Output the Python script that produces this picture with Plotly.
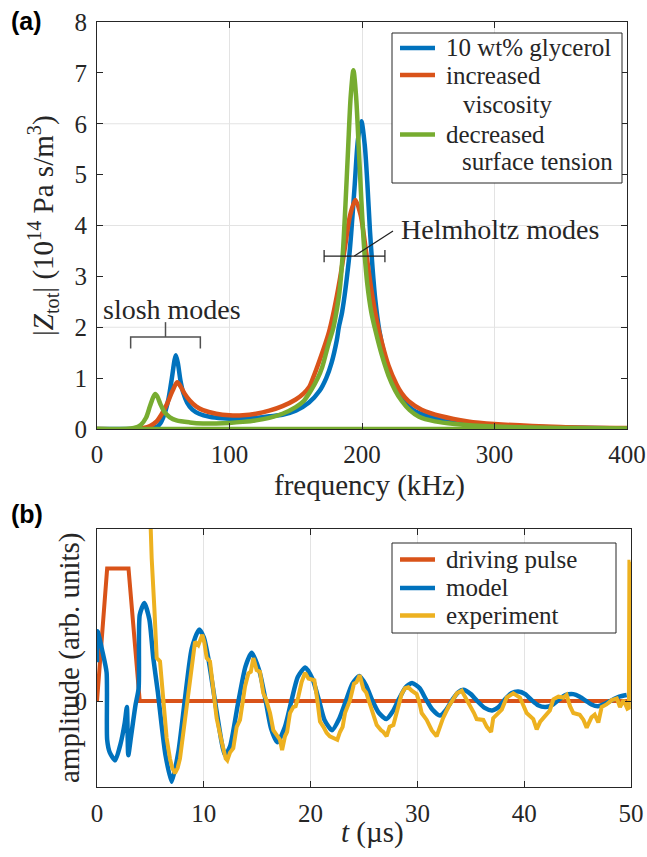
import plotly.graph_objects as go

W, H = 647, 857

# ---------------- Panel (a) data ----------------
f_blue = [0, 30, 40, 45, 48, 51, 54, 56.5, 58.5, 59.5, 61, 63, 65, 68, 72, 77, 85, 95, 105, 120, 130,
          140, 150, 160, 168, 173, 177, 181, 182.5, 185, 190, 192, 194.5, 197, 199.5, 202, 204, 206,
          208, 210, 213, 217, 222, 226, 230, 235, 240, 250, 260, 280, 300, 350, 400]
z_blue = [0, 0, 0.01, 0.04, 0.12, 0.3, 0.6, 1.0, 1.35, 1.45, 1.3, 0.95, 0.72, 0.52, 0.38, 0.3, 0.24, 0.21, 0.2, 0.22, 0.25,
          0.28, 0.36, 0.52, 0.75, 1.0, 1.3, 1.75, 2.0, 2.3, 3.3, 3.9, 4.8, 5.7, 6.05, 5.6, 4.85, 3.9,
          3.15, 2.55, 1.95, 1.45, 1.0, 0.76, 0.6, 0.45, 0.35, 0.25, 0.19, 0.12, 0.07, 0.03, 0.01]

f_red = [0, 28, 35, 40, 45, 49, 53, 57, 60.5, 63, 66, 70, 75, 80, 90, 100, 110, 120, 130, 140, 150,
         156, 160, 163, 168, 175, 179, 183, 187, 191, 195, 199, 203, 207, 211, 215, 220, 226, 230, 235,
         245, 260, 280, 300, 350, 400]
z_red = [0, 0, 0.02, 0.06, 0.15, 0.3, 0.5, 0.75, 0.92, 0.84, 0.7, 0.56, 0.44, 0.37, 0.3, 0.27, 0.27, 0.3, 0.36, 0.45, 0.58,
         0.7, 0.82, 1.0, 1.35, 1.9, 2.35, 2.9, 3.55, 4.2, 4.5, 4.2, 3.5, 2.75, 2.15, 1.7, 1.25, 0.88, 0.7, 0.55,
         0.38, 0.25, 0.15, 0.1, 0.04, 0.02]

f_green = [0, 22, 28, 33, 37, 40, 42.5, 44, 45.5, 48, 51, 55, 60, 70, 80, 90, 100, 110, 120, 130, 140,
           150, 156, 162, 166.6, 170, 175, 178, 180, 183, 185.5, 187.5, 189.5, 191.5, 193.5, 195.5,
           197.5, 199.5, 201.5, 204, 207, 210, 215, 220, 225, 230, 236, 243, 255, 270, 300, 350, 400]
z_green = [0, 0, 0.02, 0.08, 0.22, 0.45, 0.63, 0.69, 0.64, 0.48, 0.33, 0.23, 0.17, 0.13, 0.11, 0.11, 0.12, 0.14, 0.17, 0.22, 0.3,
           0.43, 0.55, 0.78, 1.0, 1.22, 1.7, 1.95, 2.2, 2.7, 3.45, 4.4, 5.5, 6.55, 7.05, 6.55,
           5.55, 4.5, 3.6, 2.85, 2.3, 1.95, 1.45, 1.05, 0.76, 0.55, 0.37, 0.24, 0.15, 0.1, 0.05, 0.02, 0.01]

base_f = [0, 400]
base_z = [0, 0]

names_a = ["10 wt% glycerol", "increased<br>viscosity", "decreased<br>surface tension"]
xticks_a = [0, 100, 200, 300, 400]
yticks_a = [0, 1, 2, 3, 4, 5, 6, 7, 8]
ygrid_a = [2, 4, 6]

# ---------------- Panel (b) data ----------------
t_pulse = [0, 0.95, 2.95, 4.0, 49.8]
a_pulse = [0, 1.54, 1.54, 0, 0]

t_model = [0, 0.05, 0.5, 0.9, 0.95, 1.2, 1.7, 2.2, 2.6, 2.8, 2.93, 3.2, 3.6, 3.9, 4.0, 4.43, 4.9, 5.27,
           5.7, 6.05, 6.4, 6.99, 7.62, 8.24, 8.87, 9.55, 10.0, 10.42, 11.2, 11.98, 12.45, 13.2, 13.9,
           14.48, 15.2, 15.8, 16.3, 16.9, 17.6, 18.2, 18.8, 19.5, 20.2, 20.8, 21.3, 22.0, 22.7, 23.3,
           23.9, 24.56, 25.2, 25.8, 26.4, 27.1, 27.7, 28.3, 28.9, 29.5, 30.2, 30.8, 31.4, 32.1, 32.7,
           33.3, 33.8, 34.3, 35.0, 35.6, 36.3, 37.0, 37.6, 38.2, 38.8, 39.45, 40.1, 40.7, 41.3, 42.0,
           42.7, 43.3, 43.9, 44.6, 45.2, 45.8, 46.3, 46.9, 47.6, 48.2, 48.9, 49.6]
a_model = [0.45, 0.81, 0.58, 0.33, -0.45, -0.6, -0.69, -0.5, -0.25, -0.07, -0.63, -0.4, -0.05, 0.15, 1.0, 1.14, 0.95, 0.5,
           0.1, -0.28, -0.62, -0.94, -0.59, 0.03, 0.61, 0.83, 0.74, 0.5, -0.12, -0.63, -0.53, -0.03, 0.4,
           0.56, 0.35, 0.0, -0.32, -0.48, -0.3, 0.0, 0.28, 0.39, 0.25, 0.0, -0.22, -0.34, -0.2, 0.0,
           0.2, 0.29, 0.18, 0.0, -0.14, -0.21, -0.12, 0.03, 0.16, 0.21, 0.15, 0.02, -0.1, -0.17, -0.1,
           0.02, 0.1, 0.13, 0.08, 0.0, -0.08, -0.11, -0.07, 0.02, 0.09, 0.11, 0.08, 0.01, -0.05, -0.07,
           -0.04, 0.02, 0.07, 0.08, 0.05, 0.0, -0.04, -0.06, -0.03, 0.01, 0.05, 0.07]

t_exp = [4.9, 5.12, 5.37, 5.59, 5.9, 6.2, 6.52, 6.83, 7.05, 7.3, 7.55, 7.77, 8.0, 8.24, 8.55, 8.87, 9.18,
         9.49, 9.86, 10.05, 10.27, 10.58, 10.89, 11.2, 11.67, 12.05, 12.2, 12.45, 12.76, 13.08, 13.39,
         13.7, 13.86, 14.17, 14.4, 14.64, 14.95, 15.26, 15.57, 15.8, 16.04, 16.2, 16.51, 16.8, 17.13,
         17.33, 17.6, 17.8, 18.07, 18.38, 18.6, 18.85, 19.16, 19.48, 19.8, 20.1, 20.35, 20.63, 20.88,
         21.2, 21.5, 21.8, 22.1, 22.5, 22.75, 23.0, 23.22, 23.69, 24.06, 24.3, 24.6, 24.94, 25.2,
         25.56, 25.87, 26.19, 26.6, 26.81, 27.12, 27.4, 27.75, 28.06, 28.3, 28.52, 28.84, 29.15,
         29.47, 29.93, 30.15, 30.4, 30.87, 31.34, 31.8, 32.1, 32.4, 32.9, 33.3, 33.7, 34.15, 34.6,
         35.08, 35.3, 35.55, 36.17, 36.5, 36.9, 37.1, 37.4, 37.9, 38.36, 38.98, 39.6, 40.23, 40.85,
         41.17, 41.5, 41.8, 42.4, 42.73, 43.2, 43.66, 43.97, 44.29, 44.6, 45.2, 45.55, 45.85, 46.3,
         46.6, 46.94, 47.25, 47.7, 48.2, 48.67, 48.97, 49.3, 49.66, 49.8, 49.85, 49.95]
a_exp = [2.5, 1.66, 1.08, 0.5, 0.46, 0.03, -0.43, -0.67, -0.78, -0.84, -0.78, -0.67, -0.45, -0.2, 0.03, 0.42, 0.69,
         0.65, 0.77, 0.68, 0.5, 0.46, 0.11, -0.2, -0.47, -0.67, -0.69, -0.6, -0.55, -0.3, -0.22,
         0.01, 0.17, 0.32, 0.34, 0.5, 0.36, 0.34, 0.09, 0.03, -0.07, -0.14, -0.34, -0.4, -0.45,
         -0.57, -0.41, -0.36, -0.14, -0.07, -0.06, 0.05, 0.22, 0.33, 0.26, 0.25, 0.24, 0.01, -0.24,
         -0.3, -0.37, -0.41, -0.43, -0.45, -0.36, -0.3, -0.14, 0.01, 0.2, 0.22, 0.3, 0.14, 0.1,
         -0.05, -0.14, -0.28, -0.34, -0.36, -0.41, -0.3, -0.28, -0.14, -0.05, 0.08, 0.15, 0.16,
         0.12, 0.08, 0.0, -0.14, -0.22, -0.34, -0.41, -0.3, -0.2, -0.07, 0.02, 0.09, 0.12, 0.02,
         -0.08, -0.14, -0.21, -0.22, -0.3, -0.36, -0.2, -0.16, -0.1, 0.04, 0.09, 0.04, -0.14, -0.21,
         -0.33, -0.24, -0.2, -0.11, 0.02, 0.05, 0.04, 0.07, -0.06, -0.14, -0.16, -0.22, -0.31, -0.19,
         -0.16, -0.25, -0.07, -0.04, 0.01, 0.03, -0.07, 0.01, -0.09, -0.08, 1.62, 1.62]

names_b = ["driving pulse", "model", "experiment"]
xticks_b = [0, 10, 20, 30, 40, 50]
yticks_b = [0]

# ---------------- styling ----------------
BLUE, RED, YEL, GRN = "#0072BD", "#D95319", "#EDB120", "#77AC30"
INK = "#262626"
GRID = "#e3e3e3"
SERIF = "Liberation Serif"
SANS = "Liberation Sans"


def X(px):
    return px / W


def Y(py):
    return 1 - py / H


fig = go.Figure()

fig.add_trace(go.Scatter(x=f_blue, y=z_blue, mode="lines", name=names_a[0],
                         line=dict(color=BLUE, width=4.5, shape="spline", smoothing=0.8),
                         xaxis="x", yaxis="y", showlegend=False))
fig.add_trace(go.Scatter(x=f_red, y=z_red, mode="lines", name=names_a[1],
                         line=dict(color=RED, width=4.5, shape="spline", smoothing=0.8),
                         xaxis="x", yaxis="y", showlegend=False))
fig.add_trace(go.Scatter(x=f_green, y=z_green, mode="lines", name=names_a[2],
                         line=dict(color=GRN, width=4.5, shape="spline", smoothing=0.8),
                         xaxis="x", yaxis="y", showlegend=False))
fig.add_trace(go.Scatter(x=base_f, y=base_z, mode="lines", line=dict(color=GRN, width=4.5),
                         xaxis="x", yaxis="y", showlegend=False, hoverinfo="skip"))

fig.add_trace(go.Scatter(x=t_pulse, y=a_pulse, mode="lines", name=names_b[0],
                         line=dict(color=RED, width=4), xaxis="x2", yaxis="y2", showlegend=False))
fig.add_trace(go.Scatter(x=t_model, y=a_model, mode="lines", name=names_b[1],
                         line=dict(color=BLUE, width=4.5, shape="spline", smoothing=0.6),
                         xaxis="x2", yaxis="y2", showlegend=False))
fig.add_trace(go.Scatter(x=t_exp, y=a_exp, mode="lines", name=names_b[2],
                         line=dict(color=YEL, width=4), xaxis="x2", yaxis="y2", showlegend=False))

axis_common = dict(showline=True, linecolor=INK, linewidth=1, mirror="ticks", ticks="inside",
                   ticklen=6, tickcolor=INK, tickwidth=1, zeroline=False,
                   tickfont=dict(family=SERIF, size=25, color=INK))

fig.update_layout(
    width=W, height=H, margin=dict(l=0, r=0, t=0, b=0, autoexpand=False),
    paper_bgcolor="white", plot_bgcolor="white", showlegend=False,
    font=dict(family=SERIF, color=INK),
    xaxis=dict(domain=[X(97), X(627)], range=[0, 400], tickvals=xticks_a, anchor="y",
               showgrid=True, gridcolor=GRID, gridwidth=1, ticklabelstandoff=3, **axis_common),
    yaxis=dict(domain=[Y(429), Y(22)], range=[0, 8], tickvals=yticks_a, anchor="x",
               showgrid=False, ticklabelstandoff=4, **axis_common),
    xaxis2=dict(domain=[X(97), X(631)], range=[0, 50], tickvals=xticks_b, anchor="y2",
                showgrid=True, gridcolor=GRID, gridwidth=1, ticklabelstandoff=4, **axis_common),
    yaxis2=dict(domain=[Y(787), Y(529)], range=[-1, 2], tickvals=yticks_b, anchor="x2",
                showgrid=False, ticklabelstandoff=4, **axis_common),
)

shapes = []
for g in ygrid_a:
    shapes.append(dict(type="line", xref="x", yref="y", x0=0, x1=400, y0=g, y1=g,
                       line=dict(color=GRID, width=1), layer="below"))

# slosh bracket
shapes.append(dict(type="path", xref="x", yref="y",
                   path="M 25.4 1.58 L 25.4 1.81 L 78 1.81 L 78 1.58",
                   line=dict(color="#505050", width=1.5)))
shapes.append(dict(type="line", xref="x", yref="y", x0=51.7, x1=51.7, y0=1.81, y1=2.1,
                   line=dict(color="#505050", width=1.5)))
# Helmholtz bar
shapes.append(dict(type="line", xref="x", yref="y", x0=171.4, x1=217.3, y0=3.4, y1=3.4,
                   line=dict(color="#202020", width=1.2)))
for xe in (171.4, 217.3):
    shapes.append(dict(type="line", xref="x", yref="y", x0=xe, x1=xe, y0=3.28, y1=3.52,
                       line=dict(color="#202020", width=1.2)))
shapes.append(dict(type="line", xref="x", yref="y", x0=194.2, x1=223.4, y0=3.4, y1=3.89,
                   line=dict(color="#202020", width=1.2)))

# legend boxes
shapes.append(dict(type="rect", xref="paper", yref="paper", x0=X(392), x1=X(622), y0=Y(183), y1=Y(33),
                   line=dict(color=INK, width=1), fillcolor="white"))
shapes.append(dict(type="rect", xref="paper", yref="paper", x0=X(392), x1=X(616), y0=Y(633), y1=Y(543),
                   line=dict(color=INK, width=1), fillcolor="white"))
for col, py in ((BLUE, 48), (RED, 75), (GRN, 134.5)):
    shapes.append(dict(type="line", xref="paper", yref="paper", x0=X(400), x1=X(435), y0=Y(py), y1=Y(py),
                       line=dict(color=col, width=4.5)))
for col, py in ((RED, 559.5), (BLUE, 588), (YEL, 615.5)):
    shapes.append(dict(type="line", xref="paper", yref="paper", x0=X(400), x1=X(435), y0=Y(py), y1=Y(py),
                       line=dict(color=col, width=4.5)))

fig.update_layout(shapes=shapes)

ann = []


def txt(text, px, py, size, xanchor="center", angle=0, family=SERIF, color=INK):
    ann.append(dict(text=text, x=X(px), y=Y(py), xref="paper", yref="paper", showarrow=False,
                    xanchor=xanchor, yanchor="middle", textangle=angle,
                    font=dict(family=family, size=size, color=color)))


txt("<b>(a)</b>", 26, 21, 25, family=SANS, color="black")
txt("<b>(b)</b>", 27, 514, 25, family=SANS, color="black")
txt("|<i>Z</i><sub>tot</sub>| (10<sup>14</sup> Pa s/m<sup>3</sup>)", 43, 226, 29, angle=-90)
txt("frequency (kHz)", 369, 485, 29)
txt("amplitude (arb. units)", 69, 658, 29, angle=-90)
txt("<i>t</i> (µs)", 372, 832, 29)
txt("slosh modes", 171.5, 310, 28)
txt("Helmholtz modes", 399, 230, 28, xanchor="left")

# legend texts
txt("10 wt% glycerol", 444, 48, 25, xanchor="left")
txt("increased", 444, 75, 25, xanchor="left")
txt("viscosity", 461, 104, 25, xanchor="left")
txt("decreased", 444, 134, 25, xanchor="left")
txt("surface tension", 460, 162, 25, xanchor="left")
txt("driving pulse", 444, 559, 25, xanchor="left")
txt("model", 444, 587, 25, xanchor="left")
txt("experiment", 444, 615, 25, xanchor="left")

fig.update_layout(annotations=ann)

fig.write_html("out.html", config={"displayModeBar": False},
               post_script="document.body.style.margin='0px';document.body.style.overflow='hidden';")
